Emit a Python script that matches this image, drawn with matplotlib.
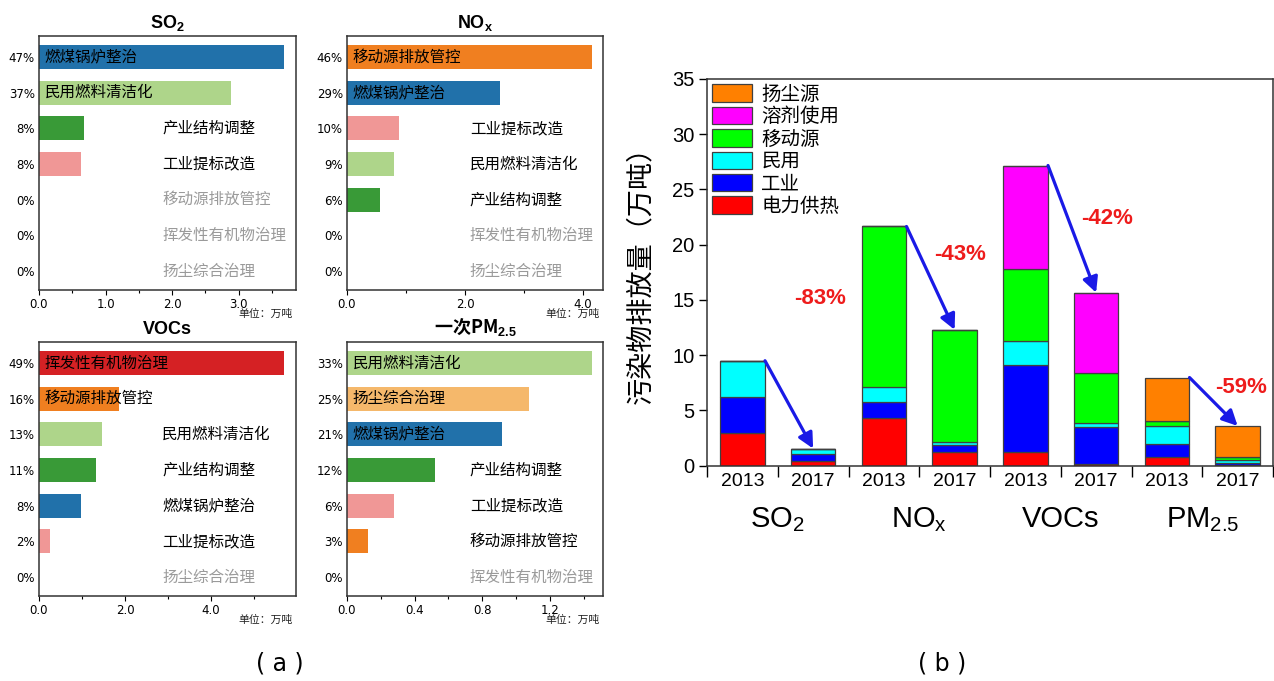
import matplotlib
matplotlib.use('Agg')
import matplotlib.pyplot as plt
import matplotlib.transforms as mtransforms
from matplotlib.patches import Patch
from matplotlib.ticker import MultipleLocator, FormatStrFormatter, FixedLocator, NullFormatter
import numpy as np

plt.rcParams['font.family'] = ['DejaVu Sans', 'Noto Sans CJK SC']
plt.rcParams['mathtext.fontset'] = 'custom'
plt.rcParams['mathtext.rm'] = 'Liberation Sans'
plt.rcParams['mathtext.bf'] = 'Liberation Sans:bold'
plt.rcParams['mathtext.default'] = 'regular'

CJK = 'Noto Sans CJK SC'

# ---------------- (a) data ----------------
measure_colors = {
    '燃煤锅炉整治': '#2171aa',
    '民用燃料清洁化': '#aed58a',
    '产业结构调整': '#399a37',
    '工业提标改造': '#f09796',
    '移动源排放管控': '#f07f20',
    '挥发性有机物治理': '#d52124',
    '扬尘综合治理': '#f5b86b',
}

so2_measures = ['燃煤锅炉整治', '民用燃料清洁化', '产业结构调整', '工业提标改造',
                '移动源排放管控', '挥发性有机物治理', '扬尘综合治理']
so2_values = [3.68, 2.89, 0.675, 0.63, 0, 0, 0]
so2_pcts = ['47%', '37%', '8%', '8%', '0%', '0%', '0%']

nox_measures = ['移动源排放管控', '燃煤锅炉整治', '工业提标改造', '民用燃料清洁化',
                '产业结构调整', '挥发性有机物治理', '扬尘综合治理']
nox_values = [4.15, 2.59, 0.88, 0.80, 0.56, 0, 0]
nox_pcts = ['46%', '29%', '10%', '9%', '6%', '0%', '0%']

voc_measures = ['挥发性有机物治理', '移动源排放管控', '民用燃料清洁化', '产业结构调整',
                '燃煤锅炉整治', '工业提标改造', '扬尘综合治理']
voc_values = [5.70, 1.86, 1.47, 1.33, 0.98, 0.26, 0]
voc_pcts = ['49%', '16%', '13%', '11%', '8%', '2%', '0%']

pm_measures = ['民用燃料清洁化', '扬尘综合治理', '燃煤锅炉整治', '产业结构调整',
               '工业提标改造', '移动源排放管控', '挥发性有机物治理']
pm_values = [1.45, 1.08, 0.92, 0.52, 0.28, 0.125, 0]
pm_pcts = ['33%', '25%', '21%', '12%', '6%', '3%', '0%']

unit_text = '单位：万吨'

# ---------------- (b) data ----------------
group_labels = ['SO$_2$', 'NO$_x$', 'VOCs', 'PM$_{2.5}$']
year_labels = ['2013', '2017', '2013', '2017', '2013', '2017', '2013', '2017']
source_names = ['电力供热', '工业', '民用', '移动源', '溶剂使用', '扬尘源']
source_colors = ['#ff0000', '#0000ff', '#00ffff', '#00ff00', '#ff00ff', '#ff8000']
power = [3.0, 0.4, 4.3, 1.25, 1.27, 0.18, 0.82, 0.10]
industry = [3.2, 0.65, 1.5, 0.65, 7.86, 3.36, 1.15, 0.12]
residential = [3.3, 0.5, 1.3, 0.2, 2.2, 0.36, 1.66, 0.30]
mobile = [0, 0, 14.55, 10.2, 6.47, 4.48, 0.45, 0.30]
solvent = [0, 0, 0, 0, 9.37, 7.28, 0, 0]
dust = [0, 0, 0, 0, 0, 0, 3.9, 2.78]
change_labels = ['-83%', '-43%', '-42%', '-59%']

fig = plt.figure(figsize=(12.74, 6.81), dpi=100)
W, H = 1274.0, 681.0


def rect(l, t, r, b):
    return [l / W, 1 - b / H, (r - l) / W, (b - t) / H]


def panel(r, title, title_family, measures, values, pcts, xmax, major, minor):
    ax = fig.add_axes(r)
    y = np.arange(len(measures))
    ax.barh(y, values, height=0.67, color=[measure_colors[m] for m in measures])
    ax.set_ylim(len(measures) - 0.47, -0.59)
    ax.set_xlim(0, xmax)
    ax.set_yticks(y)
    ax.set_yticklabels(pcts, fontsize=8.5, family='DejaVu Sans')
    ax.tick_params(axis='y', length=0, pad=3)
    ax.xaxis.set_major_locator(MultipleLocator(major))
    ax.xaxis.set_minor_locator(MultipleLocator(minor))
    ax.xaxis.set_major_formatter(FormatStrFormatter('%.1f'))
    ax.tick_params(axis='x', which='major', length=3.5, width=0.8, labelsize=8.5, pad=2)
    ax.tick_params(axis='x', which='minor', length=2.5, width=0.8)
    for s in ax.spines.values():
        s.set_linewidth(1.1)
        s.set_color('#333333')
    tr = mtransforms.blended_transform_factory(ax.transAxes, ax.transData)
    for i, (m, v, p) in enumerate(zip(measures, values, pcts)):
        pv = float(p.strip('%'))
        if pv >= 15:
            ax.annotate(m, xy=(0, i), xycoords=tr, xytext=(4, 0), textcoords='offset points',
                        va='center', ha='left', fontsize=11.2, family=CJK, color='black')
        else:
            ax.text(0.48, i, m, transform=tr, va='center', ha='left', fontsize=11.2, family=CJK,
                    color='black' if v > 0 else '#9a9a9a')
    ax.set_title(title, fontsize=13, fontweight='bold', family=title_family, pad=6)
    ax.annotate(unit_text, xy=(1.0, 0), xycoords='axes fraction', xytext=(-2, -17),
                textcoords='offset points', ha='right', va='center', fontsize=7.8, family=CJK,
                color='#222222')
    return ax


panel(rect(39, 36, 296, 290), 'SO$_\\mathbf{2}$', 'Liberation Sans', so2_measures, so2_values, so2_pcts, 3.86, 1.0, 0.5)
panel(rect(347, 36, 603, 290), 'NO$_\\mathbf{x}$', 'Liberation Sans', nox_measures, nox_values, nox_pcts, 4.34, 2.0, 1.0)
panel(rect(39, 342, 296, 596), 'VOCs', 'Liberation Sans', voc_measures, voc_values, voc_pcts, 5.98, 2.0, 1.0)
panel(rect(347, 342, 603, 596), '一次PM$_\\mathbf{2.5}$', CJK, pm_measures, pm_values, pm_pcts, 1.515, 0.4, 0.2)

# ---------------- (b) stacked bars ----------------
axb = fig.add_axes(rect(707, 79, 1273, 465.7))
x = np.arange(len(year_labels))
stack = [power, industry, residential, mobile, solvent, dust]
bottom = np.zeros(len(x))
for vals, col in zip(stack, source_colors):
    vals = np.array(vals, dtype=float)
    axb.bar(x, vals, width=0.63, bottom=bottom, color=col, edgecolor='#404040', linewidth=0.9, zorder=2)
    bottom = bottom + vals
totals = bottom

axb.set_xlim(-0.5, len(x) - 0.5)
axb.set_ylim(0, 35)
axb.yaxis.set_major_locator(MultipleLocator(5))
axb.tick_params(axis='y', direction='out', length=6, width=1, labelsize=14.5, pad=3)
for lab in axb.get_yticklabels():
    lab.set_family('Liberation Sans')
axb.xaxis.set_major_locator(FixedLocator(np.arange(-0.5, len(x), 1.0)))
axb.xaxis.set_major_formatter(NullFormatter())
axb.xaxis.set_minor_locator(FixedLocator(x))
axb.set_xticklabels(year_labels, minor=True, family='Liberation Sans', fontsize=14)
axb.tick_params(axis='x', which='major', direction='out', length=8, width=1)
axb.tick_params(axis='x', which='minor', length=0, pad=5)
for s in axb.spines.values():
    s.set_linewidth(1.1)
    s.set_color('#333333')

axb.set_ylabel('污染物排放量（万吨）', family=CJK, fontsize=19.5)
axb.yaxis.set_label_coords(-0.094, 0.51)

trb = mtransforms.blended_transform_factory(axb.transData, axb.transAxes)
for g, lab in enumerate(group_labels):
    axb.text(2 * g + 0.5, -0.158, lab, transform=trb, ha='center', va='baseline',
             fontsize=21, family='Liberation Sans')

label_pos = [(1.10, 15.1), (3.07, 19.1), (5.15, 22.4), (7.05, 7.1)]
for g, lab in enumerate(change_labels):
    i0, i1 = 2 * g, 2 * g + 1
    axb.annotate('', xy=(i1, totals[i1]), xytext=(i0 + 0.32, totals[i0]),
                 arrowprops=dict(arrowstyle='-|>', color='#1a1ae6', lw=2.3,
                                 mutation_scale=23, shrinkA=0, shrinkB=0), zorder=3)
    axb.text(label_pos[g][0], label_pos[g][1], lab, ha='center', va='center', color='#ee1c1c',
             fontsize=16, fontweight='bold', family='Liberation Sans')

handles = [Patch(facecolor=c, edgecolor='#404040', linewidth=0.9) for c in source_colors]
leg = axb.legend(handles[::-1], source_names[::-1], loc='upper left', bbox_to_anchor=(0.0, 1.0),
                 frameon=False, prop={'family': CJK, 'size': 14}, handlelength=2.05,
                 handleheight=1.0, labelspacing=0.07, handletextpad=0.5, borderpad=0.05,
                 borderaxespad=0.2)

fig.text(280 / W, 1 - 663 / H, '( a )', ha='center', va='center', fontsize=17, family='DejaVu Sans')
fig.text(942 / W, 1 - 663 / H, '( b )', ha='center', va='center', fontsize=17, family='DejaVu Sans')

fig.savefig('out.png', dpi=100)
